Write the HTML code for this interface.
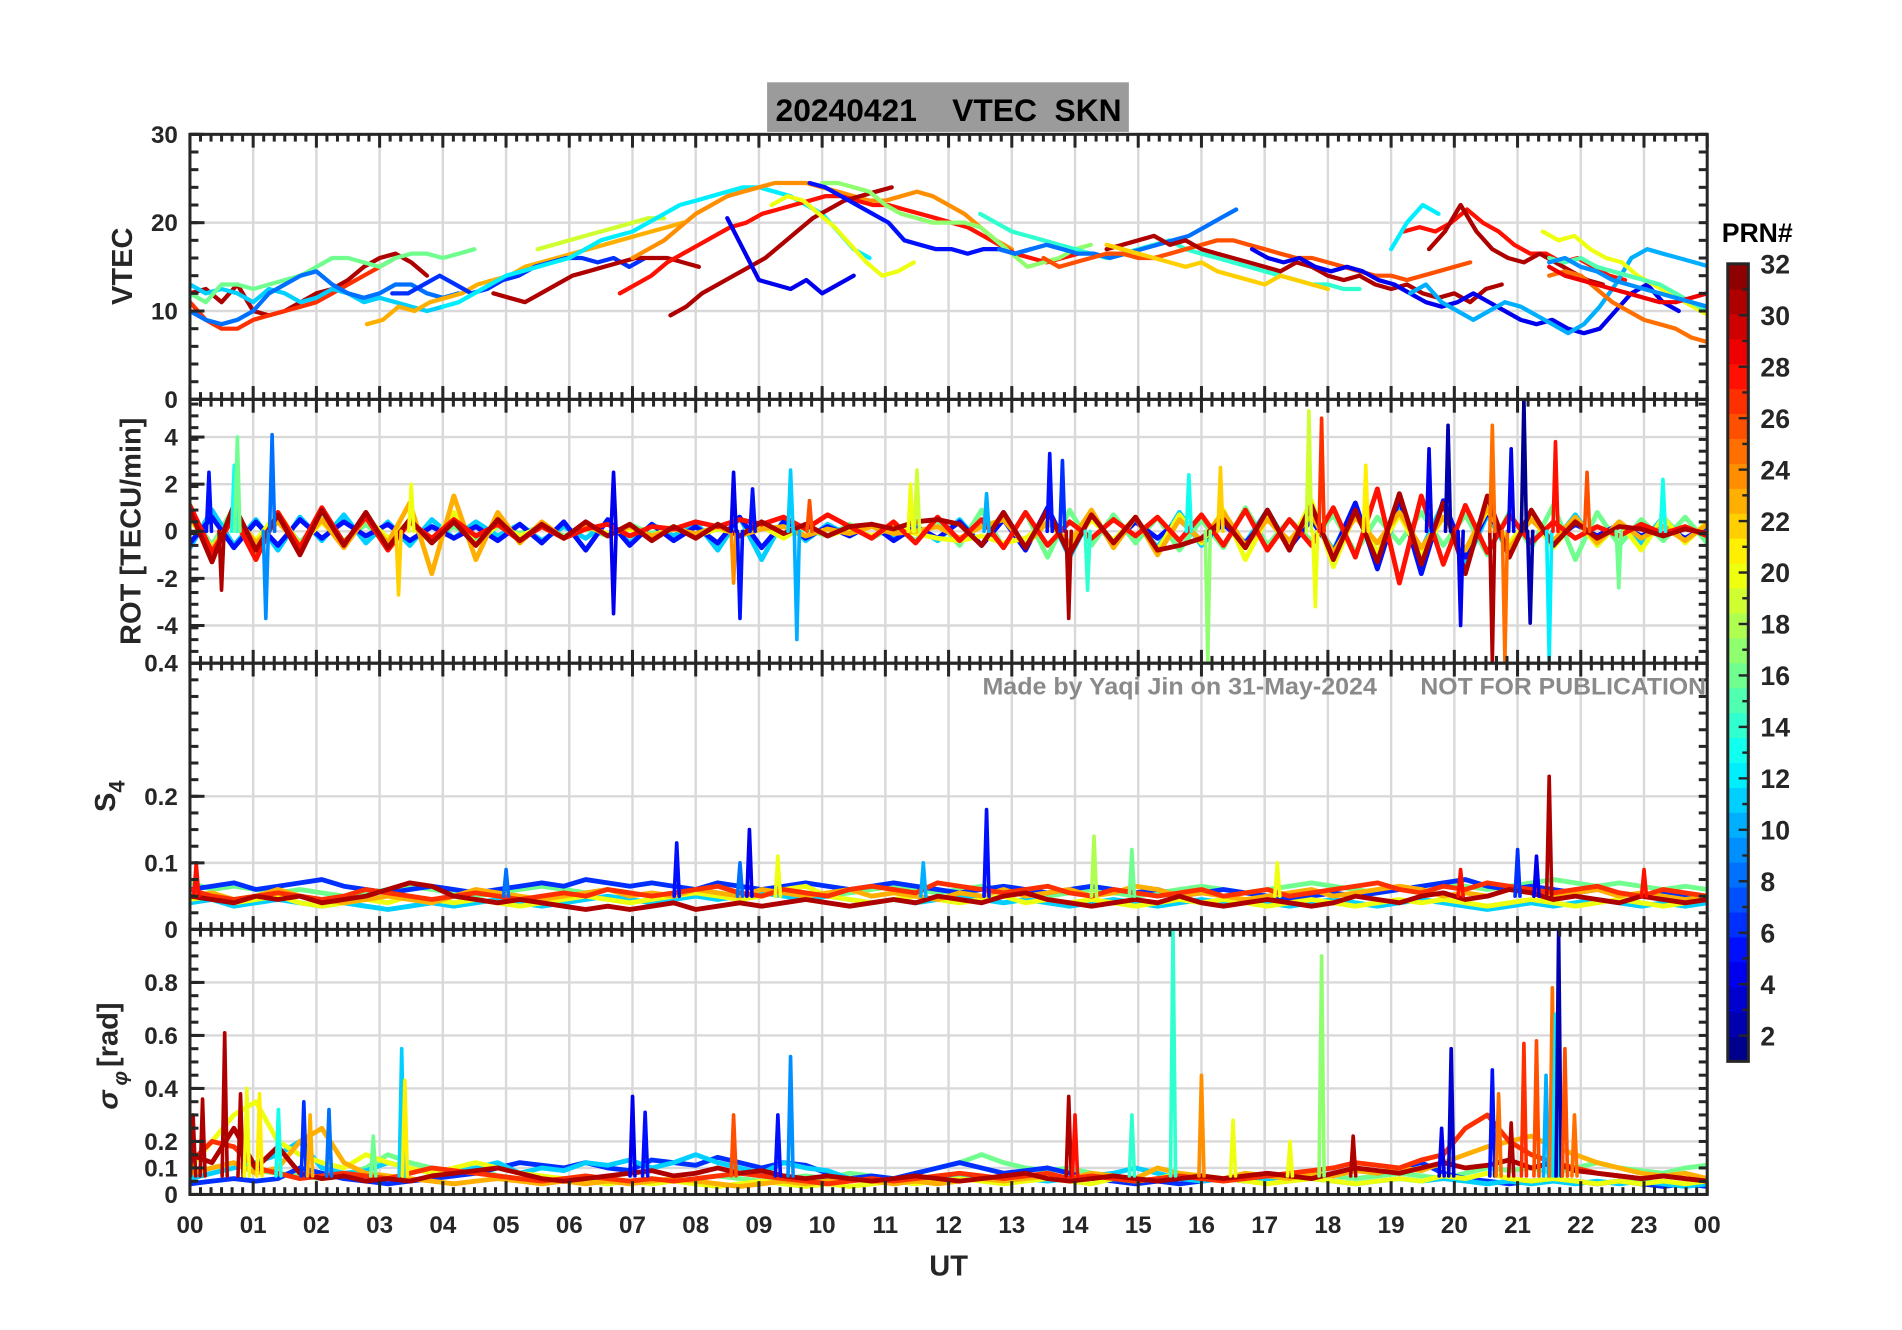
<!DOCTYPE html>
<html><head><meta charset="utf-8"><style>
html,body{margin:0;padding:0;background:#fff;}
svg{display:block;}
text{font-family:"Liberation Sans",Arial,sans-serif;font-weight:bold;}
</style></head><body>
<svg id="chart" width="1902" height="1330" viewBox="0 0 1572 1099" preserveAspectRatio="none" xmlns="http://www.w3.org/2000/svg"></svg>
<script>
// ---------- DATA ----------
const hourLabels=["00","01","02","03","04","05","06","07","08","09","10","11","12","13","14","15","16","17","18","19","20","21","22","23","00"];
const vtecPrns=[31,27,11,16,8,23,6,31,19,12,24,28,31,4,20,17,5,14,8,26,31,22,4,28,31,10,20,15,25,29,9,12];
const vtecStarts=[0,0,0,0,0,2.8,3.2,4.8,5.5,4.0,7.0,6.8,7.6,8.5,9.2,10,9.8,12.5,12.8,13.5,14.5,14.5,16.8,19.2,19.6,19.3,21.4,21.5,21.5,21.5,21.5,19.0];
const vtecValues=[
[12,12.5,11,13,10,9.5,10,11,12,12.5,13.5,15,16,16.5,15.5,14],
[11,9,8,8,9,9.5,10,10.5,11,12,13,14,15,16],
[13,12,12.5,12,11,12.5,12,11,11.5,12.5,12,11,11.5,11,10.5,10,10.5],
[12,11,13,13,12.5,13,13.5,14,15,16,16,15.5,15,16,16.5,16.5,16,16.5,17],
[10,9,8.5,9,10,12,13,14,14.5,13,12,11.5,12,13,13,12,11.5,12],
[8.5,9,10.5,10,11,11.5,12,13,13.5,14,15,15.5,16,16.5,17,17.5,18,18.5,19,19.5,20],
[12,12,13,14,13,12,12.5,13.5,14,15,15.5,16,16,15.5,16,15,16],
[12,11.5,11,12,13,14,14.5,15,15.5,16,16,16,15.5,15],
[17,17.5,18,18.5,19,19.5,20,20.5,20.5],
[10.5,11,12,13,14,14.5,15,15.5,16,17,18,18.5,19,20,21,22,22.5,23,23.5,24,24,23.5,23,22,21,19,17,16],
[16,17,18,19.5,21,22,23,23.5,24,24.5,24.5,24.5,24,23.5,23,22.5,22.5,23,23.5,23,22,21,19.5,18,17],
[12,13,14,15.5,16.5,17.5,18.5,19.5,20,21,21.5,22,22.5,23,23,22.5,22,22,21.5,21,20.5,20,19.5,18.5,17.5,16.5,16,15.5,16,16.5],
[9.5,10.5,12,13,14,15,16,17.5,19,20.5,21.5,22.5,23,23.5,24],
[20.5,17,13.5,13,12.5,13.5,12,13,14],
[22,23,22.5,21,19.5,17.5,15.5,14,14.5,15.5],
[24.5,24.5,24,23.5,22,21,20.5,20,20,20,19.5,18,16.5,15,15.5,16,17,17.5],
[24.5,24,23,22,21,20,18,17.5,17,17,16.5,17,17,16.5,17],
[21,20,19,18.5,18,17.5,17,16.5,16,16.5,17,17.5,18,17,16.5,16,15.5,15,14.5,14,13.5,13,13,12.5,12.5],
[17,16.5,17,17.5,17,16.5,16.5,16,16.5,17,17.5,18,18.5,19.5,20.5,21.5],
[16,15,15.5,16,16.5,16.5,16,16,16.5,17,17.5,18,18,17.5,17,16.5,16,16,15.5,15,14.5,14,14,13.5,14,14.5,15,15.5],
[17,17.5,18,18.5,17.5,18,17,16.5,16,15.5,15,14.5,15.5,15,14,13.5,14,13,12.5,13,12,11.5,12,11,12.5,13],
[17.5,17,16.5,16,15.5,15,15.5,14.5,14,13.5,13,14,13.5,13,12.5],
[17,16,15.5,16,15,14.5,15,14.5,13.5,13,12,11,10.5,11,12,11,10,9,8.5,9,8,7.5,8,10,12,13,11,10],
[19,19.5,19,20,21.5,20,19,17.5,16.5,16.5,15.5,16,15,14,13.5],
[17,19,22,19,17,16,15.5,16.5,15.5,14.5,13.5,13],
[12,13,11,10,9,10,11,10.5,9.5,8.5,7.5,8.5,10.5,13,16,17,16.5,16,15.5,15,14.5,14,13.5,13,12,11.5,11,10.5,10,9.5,9.5,9],
[19,18,18.5,17,16,15.5,14,13,12,11,10,9,8,8.5,9.5,10.5,11],
[16,15.5,16,15,14.5,14,13.5,13,12,11,10,9,8,7,6.5,6,5.5,5,5.5,6],
[14,14.5,14,12.5,11,10,9,8.5,8,7,6.5],
[15,14,13.5,13,12.5,12,11.5,11,11,11.5,12,12,11.5,11,10.5,10],
[15.5,16,15,14.5,13.5,13,12.5,12,11.5,11,10.5,10,10,9.5,9],
[17,20,22,21]
];
const rotPrns=[16,11,5,20,23,28,31];
const rotValues=[
[0.8,-0.6,1.0,-0.9,0.7,-0.5,0.6,-0.4,0.3,-0.5,0.4,-0.3,0.2,-0.3,0.2,-0.1,0.2,-0.2,0.1,-0.2,0.3,-0.1,0.2,-0.2,0.1,-0.1,0.2,-0.2,0.1,-0.2,0.3,-0.3,0.2,-0.4,0.5,-0.6,0.9,-0.7,0.8,-1.1,0.9,-0.6,0.7,-0.5,0.6,-0.8,0.5,-0.7,1.0,-0.6,0.5,-0.4,0.7,-0.9,0.6,-0.5,0.8,-0.6,0.7,-1.0,0.8,-0.7,1.1,-1.2,0.8,-0.6,0.5,-0.4,0.6,-0.5],
[-0.7,0.9,-0.6,0.5,-0.8,0.6,-0.4,0.7,-0.5,0.4,-0.6,0.5,-0.3,0.4,-0.2,0.3,-0.4,0.2,-0.3,0.4,-0.5,0.3,-0.2,0.4,-0.8,0.6,-1.2,0.5,-0.4,0.3,-0.2,0.3,-0.3,0.2,-0.4,0.5,-0.6,0.8,-0.7,0.9,-1.1,0.7,-0.6,0.5,-0.7,0.8,-0.6,0.4,-0.5,0.9,-0.7,0.6,-0.8,1.1,-1.3,0.9,-0.8,1.2,-1.4,0.7,-0.9,0.6,-0.5,0.7,-0.6,0.4,-0.5,0.6,-0.4,0.3],
[-0.5,0.6,-0.7,0.4,-0.6,0.5,-0.3,0.4,-0.2,0.3,-0.4,0.2,-0.3,0.2,-0.4,0.3,-0.5,0.4,-0.8,0.5,-0.6,0.3,-0.4,0.2,-0.5,0.6,-0.7,0.4,-0.3,0.2,-0.2,0.3,-0.4,0.2,-0.3,0.4,-0.6,0.5,-0.8,1.0,-0.9,0.6,-0.5,0.4,-0.3,0.5,-0.4,0.3,-0.5,0.6,-0.7,0.5,-0.9,1.2,-1.6,1.4,-1.8,1.3,-1.1,0.8,-0.6,0.5,-0.4,0.3,-0.2,0.3,-0.2,0.2,-0.3,0.2],
[0.5,-0.7,0.6,-0.4,0.8,-0.6,0.4,-0.5,0.6,-0.3,0.4,-0.5,0.8,-0.6,0.3,-0.2,0.2,-0.3,0.2,-0.1,0.1,-0.2,0.2,-0.2,0.1,-0.1,0.2,-0.3,0.3,-0.2,0.1,-0.2,0.2,-0.1,-0.3,-0.4,-0.2,-0.5,-0.3,0.4,-0.6,0.5,-0.4,0.6,-0.8,0.7,-0.5,0.9,-1.2,0.6,-0.7,1.3,-1.5,0.8,-0.9,0.7,-1.0,0.6,-0.8,0.9,-0.5,0.6,-0.7,0.5,-0.6,0.4,-0.8,0.6,-0.5,0.4],
[0.6,-0.8,0.7,-0.5,0.4,-0.6,0.5,-0.7,0.6,-0.5,1.2,-1.8,1.5,-1.2,0.8,-0.5,0.4,-0.3,0.3,-0.2,0.2,-0.2,0.1,-0.1,0.2,-0.2,0.1,0.2,-0.2,0.1,-0.1,0.2,-0.1,0.0,0.2,-0.3,0.2,0.5,-0.6,0.4,-0.5,0.9,-0.7,0.6,-1.0,0.5,-0.4,0.8,-0.6,0.5,-0.4,0.7,-0.9,0.6,-0.5,0.8,-0.7,0.6,-0.8,1.0,-0.7,0.5,-0.4,0.6,-0.5,0.4,-0.3,0.2,-0.4,0.3],
[1.1,-0.9,0.6,-1.2,0.8,-0.7,1.0,-0.5,0.6,-0.8,0.4,-0.3,0.5,-0.2,0.3,-0.4,0.2,-0.3,0.1,0.3,-0.2,0.2,0.1,0.4,0.2,0.5,0.3,0.6,0.1,0.7,0.2,-0.3,0.4,-0.5,0.6,-0.4,0.5,-0.7,0.8,-0.6,0.4,-0.3,0.5,-0.2,0.6,-0.4,0.7,-0.6,0.9,-0.8,0.5,-0.6,1.0,-1.1,1.8,-2.2,1.5,-1.4,1.1,-0.9,0.7,-0.5,0.4,-0.3,0.2,-0.2,0.3,-0.1,0.2,-0.2],
[0.9,-1.3,1.1,-0.8,0.7,-1.0,0.9,-0.6,0.8,-0.7,0.5,-0.5,0.4,-0.6,0.5,-0.4,0.3,-0.3,0.4,-0.2,0.3,-0.4,0.2,-0.3,0.3,-0.2,0.4,-0.1,0.3,-0.2,0.2,0.3,0.1,0.4,0.5,0.3,-0.6,0.8,-0.7,0.9,-1.0,0.7,-0.5,0.6,-0.8,-0.6,-0.3,0.5,-0.7,0.9,-0.8,1.1,-1.2,0.9,-1.3,1.6,-1.4,1.2,-1.8,1.5,-1.1,0.9,-0.6,0.4,-0.3,0.2,0.1,-0.2,0.1,-0.1]
];
const rotSpikes=[[0.5,-2.5,31],[0.7,2.8,13],[0.75,4,16],[1.2,-3.7,9],[1.3,4.1,8],[0.3,2.5,5],[3.3,-2.7,22],[3.5,2,20],[6.7,-3.5,4],[6.7,2.5,4],[8.6,-2.2,24],[8.7,-3.7,5],[8.6,2.5,4],[9.6,-4.6,10],[9.5,2.6,11],[11.5,2.6,19],[12.6,1.6,10],[13.6,3.3,5],[13.8,3,6],[13.9,-3.7,31],[14.2,-2.5,14],[15.8,2.4,13],[16.1,-5.5,17],[16.3,2.7,22],[17.7,5.1,19],[17.8,-3.2,20],[17.9,4.8,27],[18.6,2.8,21],[19.6,3.5,4],[19.9,4.5,2],[20.1,-4,4],[20.6,-5.5,31],[20.6,4.5,25],[20.8,-5.5,25],[20.9,3.5,4],[21.1,5.6,1],[21.2,-3.9,2],[21.5,-5.5,12],[21.6,3.8,28],[22.1,2.5,26],[22.6,-2.4,16],[23.3,2.2,13],[11.4,2.0,20],[9.8,1.3,26],[8.9,1.8,5]];
const s4Prns=[16,6,11,20,23,27,31];
const s4Values=[
[0.07,0.06,0.065,0.06,0.055,0.06,0.055,0.05,0.055,0.06,0.065,0.06,0.055,0.05,0.055,0.06,0.065,0.06,0.055,0.06,0.055,0.05,0.055,0.06,0.055,0.05,0.055,0.06,0.055,0.05,0.055,0.06,0.065,0.06,0.055,0.06,0.065,0.06,0.055,0.05,0.055,0.06,0.055,0.05,0.055,0.06,0.065,0.06,0.055,0.06,0.065,0.07,0.065,0.06,0.055,0.06,0.065,0.07,0.065,0.06,0.065,0.07,0.075,0.07,0.065,0.07,0.065,0.06,0.065,0.06],
[0.06,0.065,0.07,0.06,0.065,0.07,0.075,0.065,0.06,0.055,0.06,0.065,0.06,0.055,0.06,0.065,0.07,0.065,0.075,0.07,0.065,0.07,0.065,0.06,0.07,0.065,0.06,0.065,0.07,0.065,0.06,0.065,0.07,0.065,0.06,0.055,0.06,0.065,0.06,0.055,0.06,0.065,0.06,0.055,0.06,0.05,0.055,0.06,0.055,0.05,0.045,0.05,0.055,0.05,0.055,0.06,0.065,0.07,0.075,0.065,0.06,0.065,0.06,0.055,0.06,0.055,0.05,0.055,0.05,0.045],
[0.04,0.045,0.035,0.04,0.045,0.04,0.035,0.04,0.035,0.03,0.035,0.04,0.035,0.04,0.045,0.04,0.035,0.04,0.045,0.05,0.045,0.04,0.045,0.05,0.045,0.05,0.055,0.05,0.045,0.05,0.045,0.04,0.045,0.04,0.045,0.05,0.045,0.04,0.045,0.04,0.035,0.04,0.045,0.04,0.035,0.04,0.045,0.04,0.045,0.04,0.035,0.04,0.045,0.04,0.035,0.04,0.045,0.04,0.035,0.03,0.035,0.04,0.035,0.04,0.045,0.04,0.035,0.04,0.035,0.04],
[0.045,0.05,0.04,0.045,0.05,0.04,0.035,0.04,0.045,0.04,0.05,0.045,0.04,0.045,0.04,0.035,0.04,0.045,0.05,0.045,0.04,0.045,0.05,0.055,0.05,0.045,0.05,0.06,0.065,0.05,0.045,0.04,0.045,0.05,0.045,0.04,0.045,0.05,0.04,0.045,0.04,0.045,0.04,0.035,0.04,0.045,0.04,0.045,0.04,0.035,0.04,0.045,0.04,0.035,0.04,0.045,0.04,0.045,0.04,0.035,0.04,0.045,0.04,0.035,0.04,0.045,0.04,0.035,0.04,0.045],
[0.05,0.055,0.045,0.05,0.06,0.05,0.045,0.04,0.045,0.05,0.045,0.04,0.05,0.06,0.055,0.05,0.045,0.05,0.055,0.06,0.05,0.055,0.05,0.06,0.055,0.05,0.06,0.055,0.05,0.055,0.06,0.05,0.055,0.05,0.045,0.055,0.05,0.06,0.05,0.055,0.06,0.05,0.055,0.065,0.06,0.05,0.055,0.05,0.045,0.05,0.055,0.06,0.05,0.055,0.06,0.065,0.06,0.05,0.055,0.05,0.06,0.055,0.05,0.055,0.06,0.05,0.055,0.05,0.045,0.05],
[0.06,0.05,0.045,0.05,0.055,0.05,0.045,0.05,0.06,0.055,0.05,0.045,0.05,0.055,0.05,0.045,0.05,0.055,0.05,0.06,0.055,0.05,0.055,0.06,0.065,0.055,0.05,0.06,0.055,0.05,0.06,0.065,0.06,0.055,0.07,0.065,0.06,0.055,0.06,0.065,0.055,0.05,0.06,0.055,0.05,0.055,0.06,0.05,0.055,0.06,0.05,0.055,0.06,0.065,0.07,0.06,0.055,0.065,0.06,0.07,0.065,0.06,0.055,0.06,0.065,0.055,0.05,0.06,0.055,0.05],
[0.05,0.045,0.04,0.05,0.045,0.05,0.04,0.045,0.05,0.06,0.07,0.065,0.05,0.045,0.04,0.045,0.04,0.035,0.03,0.035,0.03,0.035,0.04,0.03,0.035,0.04,0.035,0.04,0.045,0.04,0.035,0.04,0.045,0.04,0.05,0.045,0.04,0.05,0.055,0.045,0.04,0.035,0.04,0.045,0.04,0.05,0.04,0.035,0.04,0.045,0.04,0.035,0.04,0.05,0.045,0.04,0.05,0.055,0.045,0.05,0.06,0.055,0.045,0.05,0.045,0.04,0.05,0.045,0.04,0.045]
];
const s4Spikes=[[7.7,0.13,5],[8.85,0.15,4],[8.7,0.1,8],[9.3,0.11,20],[12.6,0.18,5],[14.3,0.14,18],[14.9,0.12,16],[17.2,0.1,20],[21.0,0.12,6],[21.3,0.11,4],[21.5,0.23,31],[20.1,0.09,28],[5.0,0.09,8],[11.6,0.1,10],[23.0,0.09,28],[0.1,0.1,28]];
const sigPrns=[16,6,11,20,23,27,31];
const sigValues=[
[0.08,0.1,0.12,0.09,0.08,0.07,0.06,0.07,0.1,0.15,0.12,0.1,0.08,0.1,0.07,0.06,0.05,0.06,0.05,0.06,0.05,0.06,0.05,0.06,0.07,0.06,0.05,0.06,0.07,0.06,0.08,0.07,0.06,0.08,0.1,0.12,0.15,0.12,0.1,0.09,0.1,0.08,0.07,0.06,0.05,0.06,0.05,0.06,0.07,0.06,0.07,0.08,0.07,0.06,0.07,0.08,0.07,0.06,0.08,0.1,0.09,0.1,0.08,0.1,0.12,0.1,0.09,0.08,0.1,0.11],
[0.04,0.05,0.06,0.05,0.06,0.1,0.08,0.06,0.05,0.04,0.05,0.06,0.07,0.08,0.1,0.12,0.11,0.1,0.12,0.1,0.09,0.13,0.12,0.11,0.14,0.12,0.1,0.12,0.11,0.08,0.06,0.07,0.06,0.08,0.1,0.12,0.1,0.08,0.09,0.1,0.08,0.06,0.05,0.04,0.05,0.04,0.05,0.06,0.05,0.06,0.07,0.06,0.08,0.1,0.08,0.1,0.12,0.08,0.06,0.05,0.04,0.05,0.06,0.05,0.04,0.05,0.04,0.03,0.04,0.03],
[0.06,0.08,0.1,0.12,0.15,0.2,0.1,0.08,0.09,0.12,0.1,0.08,0.09,0.1,0.12,0.08,0.1,0.09,0.12,0.11,0.13,0.1,0.12,0.15,0.12,0.1,0.08,0.12,0.1,0.09,0.06,0.05,0.06,0.05,0.06,0.07,0.06,0.05,0.06,0.05,0.06,0.07,0.08,0.1,0.08,0.06,0.05,0.06,0.05,0.06,0.07,0.06,0.05,0.04,0.05,0.06,0.05,0.06,0.05,0.04,0.05,0.04,0.05,0.04,0.05,0.04,0.05,0.04,0.03,0.04],
[0.1,0.2,0.3,0.35,0.2,0.15,0.12,0.1,0.15,0.12,0.1,0.08,0.1,0.12,0.1,0.08,0.07,0.06,0.05,0.04,0.05,0.04,0.05,0.04,0.03,0.04,0.05,0.04,0.03,0.04,0.03,0.04,0.05,0.04,0.05,0.06,0.05,0.04,0.05,0.06,0.05,0.04,0.06,0.05,0.06,0.08,0.07,0.06,0.05,0.04,0.05,0.06,0.05,0.04,0.05,0.06,0.05,0.07,0.06,0.08,0.06,0.05,0.06,0.05,0.04,0.05,0.04,0.05,0.04,0.05],
[0.08,0.1,0.12,0.08,0.1,0.2,0.25,0.12,0.08,0.07,0.06,0.05,0.04,0.05,0.06,0.05,0.04,0.05,0.04,0.05,0.04,0.05,0.06,0.05,0.04,0.03,0.04,0.05,0.04,0.05,0.06,0.05,0.04,0.05,0.04,0.05,0.06,0.05,0.06,0.07,0.06,0.08,0.07,0.06,0.1,0.08,0.07,0.06,0.08,0.07,0.06,0.08,0.07,0.09,0.08,0.1,0.09,0.12,0.15,0.18,0.2,0.22,0.18,0.15,0.12,0.1,0.08,0.07,0.08,0.06],
[0.12,0.2,0.18,0.1,0.08,0.06,0.07,0.08,0.07,0.06,0.08,0.1,0.09,0.08,0.07,0.06,0.05,0.06,0.07,0.06,0.05,0.06,0.05,0.06,0.07,0.08,0.07,0.06,0.05,0.04,0.05,0.06,0.05,0.06,0.07,0.08,0.07,0.06,0.07,0.08,0.06,0.07,0.06,0.05,0.06,0.07,0.06,0.05,0.06,0.07,0.08,0.09,0.1,0.12,0.11,0.1,0.13,0.15,0.25,0.3,0.2,0.15,0.12,0.1,0.08,0.07,0.06,0.07,0.06,0.05],
[0.15,0.12,0.25,0.1,0.18,0.08,0.06,0.07,0.05,0.06,0.05,0.07,0.08,0.09,0.1,0.08,0.06,0.05,0.06,0.07,0.08,0.09,0.07,0.08,0.1,0.08,0.09,0.07,0.06,0.07,0.06,0.05,0.06,0.07,0.06,0.05,0.06,0.07,0.08,0.06,0.05,0.06,0.07,0.06,0.05,0.06,0.07,0.06,0.07,0.08,0.07,0.06,0.08,0.1,0.09,0.08,0.1,0.12,0.1,0.11,0.13,0.1,0.12,0.09,0.08,0.07,0.06,0.07,0.06,0.05]
];
const sigSpikes=[[0.2,0.36,31],[0.55,0.61,31],[0.8,0.38,31],[0.9,0.4,20],[1.1,0.38,21],[1.4,0.32,13],[1.8,0.35,6],[1.9,0.3,23],[2.2,0.32,8],[2.9,0.22,16],[3.35,0.55,11],[3.4,0.43,21],[7.0,0.37,4],[7.2,0.31,5],[8.6,0.3,26],[9.5,0.52,9],[9.3,0.3,5],[13.9,0.37,31],[14.0,0.3,28],[14.9,0.3,14],[15.55,1.0,14],[16.0,0.45,24],[16.5,0.28,20],[17.4,0.2,20],[17.9,0.9,17],[18.4,0.22,31],[19.8,0.25,4],[19.95,0.55,3],[20.6,0.47,5],[20.7,0.38,25],[20.9,0.27,31],[21.1,0.57,27],[21.3,0.58,26],[21.45,0.45,10],[21.55,0.78,25],[21.6,0.68,12],[21.65,1.0,2],[21.75,0.55,26],[21.9,0.3,25],[0.05,0.3,31]];
const cbLabels=[2,4,6,8,10,12,14,16,18,20,22,24,26,28,30,32];

// ---------- LAYOUT ----------
const NS="http://www.w3.org/2000/svg";
const svg=document.getElementById('chart');
const X0=157,X1=1411;
const panels=[
 {top:111,bot:330,min:0,max:30,grid:[10,20],labels:[[30,"30"],[20,"20"],[10,"10"],[0,"0"]],minor:2},
 {top:330,bot:548,min:-5.6,max:5.6,grid:[-4,-2,0,2,4],labels:[[4,"4"],[2,"2"],[0,"0"],[-2,"-2"],[-4,"-4"]],minor:0.5},
 {top:548,bot:768,min:0,max:0.4,grid:[0.1,0.2],labels:[[0.4,"0.4"],[0.2,"0.2"],[0.1,"0.1"],[0,"0"]],minor:0.025},
 {top:768,bot:987,min:0,max:1,grid:[0.1,0.2,0.4,0.6,0.8],labels:[[0.8,"0.8"],[0.6,"0.6"],[0.4,"0.4"],[0.2,"0.2"],[0.1,"0.1"],[0,"0"]],minor:0.05}
];
function xs(h){return X0+(X1-X0)*h/24;}
function ys(p,v){const P=panels[p];v=Math.max(P.min,Math.min(P.max,v));return P.bot-(v-P.min)/(P.max-P.min)*(P.bot-P.top);}
function jet(prn){const v=(prn-0.5)/32;const c=t=>Math.round(255*Math.max(0,Math.min(1,1.5-Math.abs(4*v-t))));return `rgb(${c(3)},${c(2)},${c(1)})`;}
function mk(tag,attrs,parent){const e=document.createElementNS(NS,tag);for(const k in attrs)e.setAttribute(k,attrs[k]);(parent||svg).appendChild(e);return e;}

// clip paths
const defs=mk('defs',{});
panels.forEach((P,pi)=>{
 const cp=mk('clipPath',{id:'clip'+pi},defs);
 mk('rect',{x:X0,y:P.top,width:X1-X0,height:P.bot-P.top},cp);
});

// grid
panels.forEach((P,pi)=>{
 const g=mk('g',{});
 
 
 for(let h=1;h<24;h++)mk('line',{x1:xs(h),x2:xs(h),y1:P.top,y2:P.bot,stroke:'#d9d9d9','stroke-width':2},g);
 P.grid.forEach(v=>mk('line',{x1:X0,x2:X1,y1:ys(pi,v),y2:ys(pi,v),stroke:'#d9d9d9','stroke-width':2},g));
});

const layers=panels.map((P,pi)=>{
 const g=mk('g',{'clip-path':'url(#clip'+pi+')'});
 
 
 return g;
});

// series
function polyline(p,pts,prn,w,name){
 const d=pts.map((q,i)=>(i?'L':'M')+q[0].toFixed(1)+' '+q[1].toFixed(1)).join('');
 const e=mk('path',{d:d,fill:'none',stroke:jet(prn),'stroke-width':w,'stroke-linejoin':'round','stroke-linecap':'round'},layers[p]);
 
 
}
vtecValues.forEach((vals,i)=>{
 const pts=vals.map((v,j)=>[xs(vtecStarts[i]+0.25*j),ys(0,v)]);
 polyline(0,pts,vtecPrns[i],3.5,'vtec-track-prn'+vtecPrns[i]);
});
function fullDay(p,vals,prns,w,nm){
 vals.forEach((arr,i)=>{
  const n=arr.length;
  const pts=arr.map((v,j)=>[xs(24*j/(n-1)),ys(p,v)]);
  polyline(p,pts,prns[i],w,nm+'-prn'+prns[i]);
 });
}
function spikes(p,list,base,nm){
 list.forEach(s=>{
  const pts=[[xs(s[0]-0.04),ys(p,base)],[xs(s[0]),ys(p,s[1])],[xs(s[0]+0.04),ys(p,base)]];
  polyline(p,pts,s[2],3,nm);
 });
}
fullDay(1,rotValues,rotPrns,4,'rot-series');
spikes(1,rotSpikes,0,'rot-spike');
fullDay(2,s4Values,s4Prns,4,'s4-series');
spikes(2,s4Spikes,0.05,'s4-spike');
fullDay(3,sigValues,sigPrns,4,'sigma-series');
spikes(3,sigSpikes,0.07,'sigma-spike');

// frames, ticks, labels
const AX='#262626';
panels.forEach((P,pi)=>{
 const g=mk('g',{});
 
 
 mk('rect',{x:X0,y:P.top,width:X1-X0,height:P.bot-P.top,fill:'none',stroke:AX,'stroke-width':2.5},g);
 for(let m=0;m<=144;m++){
  const x=xs(m/6),L=(m%6===0)?11:6;
  mk('line',{x1:x,x2:x,y1:P.top,y2:P.top+L,stroke:AX,'stroke-width':2.5},g);
  mk('line',{x1:x,x2:x,y1:P.bot,y2:P.bot-L,stroke:AX,'stroke-width':2.5},g);
 }
 for(let v=P.min;v<=P.max+1e-9;v+=P.minor){
  const y=ys(pi,v);
  mk('line',{x1:X0,x2:X0+7,y1:y,y2:y,stroke:AX,'stroke-width':2.5},g);
  mk('line',{x1:X1,x2:X1-7,y1:y,y2:y,stroke:AX,'stroke-width':2.5},g);
 }
 P.labels.forEach(l=>{
  const y=ys(pi,l[0]);
  mk('line',{x1:X0,x2:X0+12,y1:y,y2:y,stroke:AX,'stroke-width':2.5},g);
  const t=mk('text',{x:147,y:y+7,'text-anchor':'end','font-size':20,fill:AX},g);
  t.textContent=l[1];
 });
});
hourLabels.forEach((l,i)=>{
 const t=mk('text',{x:xs(i),y:1019,'text-anchor':'middle','font-size':20,fill:AX});
 
 
 t.textContent=l;
});
</script>
<script>
const S=document.getElementById('chart');
S.insertAdjacentHTML('beforeend',`
<text x="784" y="1054" text-anchor="middle" font-size="24" fill="#262626">UT</text>
<text transform="translate(109,220) rotate(-90)" text-anchor="middle" font-size="24" fill="#262626">VTEC</text>
<text transform="translate(116,439) rotate(-90)" text-anchor="middle" font-size="24" fill="#262626">ROT [TECU/min]</text>
<text transform="translate(95,658) rotate(-90)" text-anchor="middle" font-size="24" fill="#262626">S<tspan font-size="18" dy="8">4</tspan></text>
<g transform="translate(97,877) rotate(-90)">
<text x="-32" y="0" text-anchor="middle" font-size="24" font-style="italic" font-weight="normal" fill="#262626" font-family="Liberation Serif, serif">σ</text>
<text x="-14" y="8" text-anchor="middle" font-size="17" font-style="italic" font-weight="normal" fill="#262626" font-family="Liberation Serif, serif">φ</text>
<text x="22" y="0" text-anchor="middle" font-size="24" fill="#262626">[rad]</text>
</g>
<rect x="634" y="68" width="299" height="41" fill="#9b9b9b"/>
<text x="641" y="100" font-size="26" fill="#000" textLength="286" lengthAdjust="spacingAndGlyphs" xml:space="preserve">20240421    VTEC  SKN</text>
<text x="812" y="574" font-size="20" fill="#8a8a8a" textLength="326" lengthAdjust="spacingAndGlyphs">Made by Yaqi Jin on 31-May-2024</text>
<text x="1174" y="574" font-size="20" fill="#8a8a8a" textLength="236" lengthAdjust="spacingAndGlyphs">NOT FOR PUBLICATION</text>
<text x="1423" y="200" font-size="22" fill="#000">PRN#</text>
`);
const cb=document.createElementNS("http://www.w3.org/2000/svg",'g');


S.appendChild(cb);
const CT=218,CB=877,CX=1428,CW=17;
function cy(v){return CB-(v-1)/(32-1)*(CB-CT);}
for(let k=1;k<=32;k++){
 const y0=CB-(k-1)*(CB-CT)/32,y1=CB-k*(CB-CT)/32;
 const r=document.createElementNS("http://www.w3.org/2000/svg",'rect');
 r.setAttribute('x',CX);r.setAttribute('y',y1);r.setAttribute('width',CW);r.setAttribute('height',y0-y1+0.6);
 r.setAttribute('fill',jet(k));
 
 
 cb.appendChild(r);
}
for(let v=1;v<=32;v++){
 const y=cy(v);
 const l=document.createElementNS("http://www.w3.org/2000/svg",'line');
 l.setAttribute('x1',CX+CW);l.setAttribute('x2',CX+CW-(v%2===0?8:5));l.setAttribute('y1',y);l.setAttribute('y2',y);
 l.setAttribute('stroke','#262626');l.setAttribute('stroke-width',2);
 cb.appendChild(l);
}
const fr=document.createElementNS("http://www.w3.org/2000/svg",'rect');
fr.setAttribute('x',CX);fr.setAttribute('y',CT);fr.setAttribute('width',CW);fr.setAttribute('height',CB-CT);
fr.setAttribute('fill','none');fr.setAttribute('stroke','#262626');fr.setAttribute('stroke-width',2.5);
cb.appendChild(fr);
cbLabels.forEach(v=>{
 const t=document.createElementNS("http://www.w3.org/2000/svg",'text');
 t.setAttribute('x',1455);t.setAttribute('y',cy(v)+8);t.setAttribute('font-size',22);t.setAttribute('fill','#262626');
 
 
 t.textContent=v;
 cb.appendChild(t);
});
</script>
</body></html>
